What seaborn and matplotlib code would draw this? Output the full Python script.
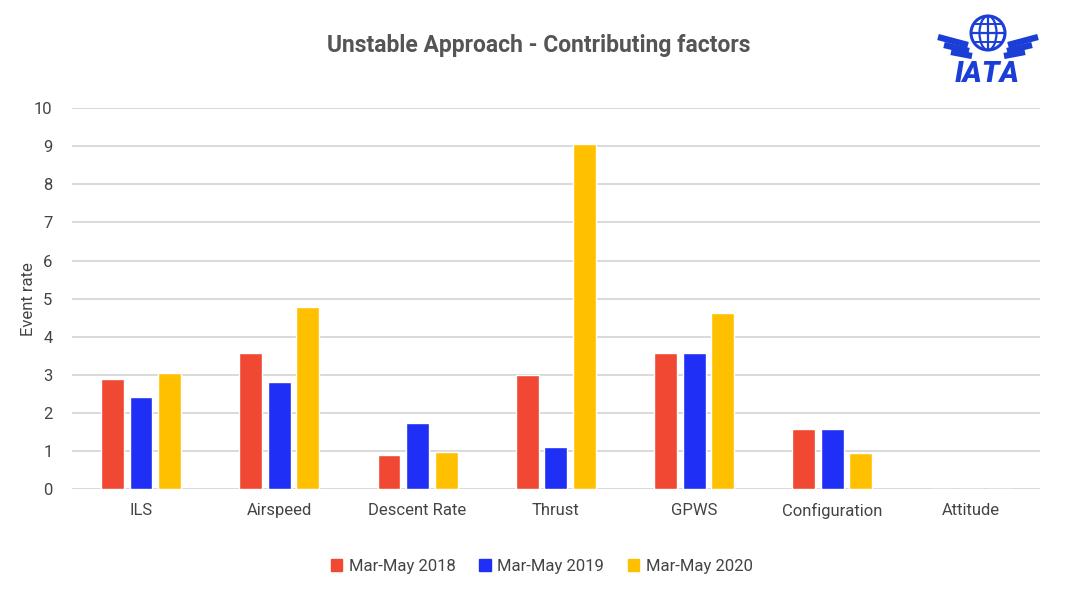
import numpy as np
import pandas as pd
import matplotlib
matplotlib.use('Agg')
import matplotlib.pyplot as plt
import seaborn as sns
from matplotlib.patches import Circle, Ellipse

factors = ['ILS', 'Airspeed', 'Descent Rate', 'Thrust', 'GPWS', 'Configuration', 'Attitude']
periods = ['Mar-May 2018', 'Mar-May 2019', 'Mar-May 2020']
rate_2018 = [2.88, 3.57, 0.91, 3.00, 3.57, 1.59, 0.0]
rate_2019 = [2.41, 2.82, 1.73, 1.12, 3.57, 1.57, 0.0]
rate_2020 = [3.06, 4.77, 0.97, 9.05, 4.62, 0.94, 0.0]
colors = ['#F04832', '#1F2FF5', '#FFC000']

df = pd.DataFrame({
    'factor': factors * 3,
    'period': np.repeat(periods, len(factors)),
    'rate': rate_2018 + rate_2019 + rate_2020,
})

sns.set_theme(style='white')
plt.rcParams['font.family'] = ['Roboto', 'DejaVu Sans']

fig = plt.figure(figsize=(10.73, 6.01), dpi=100)
ax = fig.add_axes([0.067, 0.186, 0.902, 0.634])

sns.barplot(data=df, x='factor', y='rate', hue='period', palette=colors,
            width=0.62, gap=0.2, saturation=1, ax=ax, legend=False)

ax.set_ylim(0, 10)
ax.set_yticks(range(0, 11))
ax.yaxis.grid(True, color='#D9D9D9', linewidth=1.4)
ax.set_axisbelow(True)
for s in ax.spines.values():
    s.set_visible(False)
ax.tick_params(axis='both', length=0, colors='#444444', labelsize=12)
ax.tick_params(axis='y', pad=14)
ax.tick_params(axis='x', pad=10)
ax.set_xlabel('')
ax.set_ylabel('Event rate', fontsize=12, color='#444444')
ax.yaxis.set_label_coords(-0.037, 0.5)

fig.suptitle('Unstable Approach - Contributing factors', x=0.502, y=0.943,
             fontsize=16.5, fontweight='bold', color='#555555')

handles = [plt.Rectangle((0, 0), 1, 1, color=c) for c in colors]
fig.legend(handles, periods, loc='center', bbox_to_anchor=(0.505, 0.058), ncol=3,
           frameon=False, fontsize=12, handlelength=0.7, handleheight=0.7,
           handletextpad=0.4, columnspacing=1.4, labelcolor='#444444')

# IATA logo, rough sketch in pixel coordinates
logo_blue = '#1B3FD6'
lax = fig.add_axes([935 / 1073, 1 - 90 / 601, 105 / 1073, 80 / 601])
lax.set_xlim(935, 1040)
lax.set_ylim(90, 10)
lax.axis('off')
gx, gy, r = 988, 33, 17
lax.add_patch(Circle((gx, gy), r, fill=False, lw=2.2, color=logo_blue))
lax.add_patch(Ellipse((gx, gy), r, 2 * r, fill=False, lw=1.6, color=logo_blue))
lax.plot([gx, gx], [gy - r, gy + r], color=logo_blue, lw=1.6)
lax.plot([gx - r, gx + r], [gy, gy], color=logo_blue, lw=1.6)
for dy in (-9, 9):
    half = np.sqrt(r ** 2 - dy ** 2)
    lax.plot([gx - half, gx + half], [gy + dy, gy + dy], color=logo_blue, lw=1.4)
wings = [((938, 37), (968, 45)), ((944, 45), (969, 51)), ((951, 52), (972, 56))]
for (x0, y0), (x1, y1) in wings:
    lax.plot([x0, x1], [y0, y1], color=logo_blue, lw=4.5, solid_capstyle='butt')
    lax.plot([2 * gx - x0, 2 * gx - x1], [y0, y1], color=logo_blue, lw=4.5, solid_capstyle='butt')
lax.text(987, 74, 'IATA', ha='center', va='center', fontsize=21, fontweight='heavy',
         style='italic', color=logo_blue)

fig.savefig('out.png', dpi=100, facecolor='white')
